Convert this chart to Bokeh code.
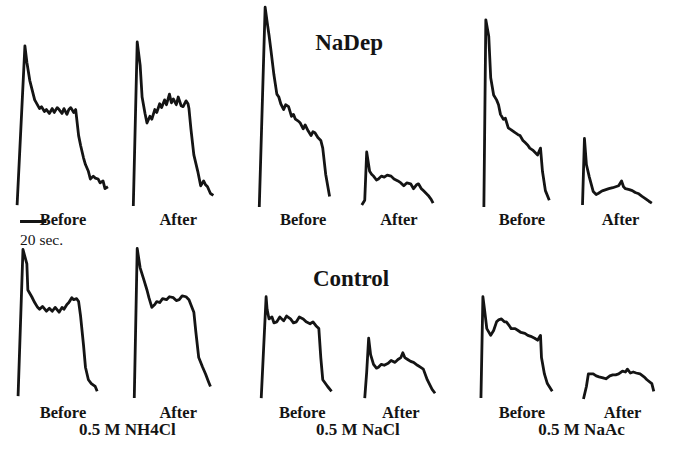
from bokeh.plotting import figure
from bokeh.models import Range1d
from bokeh.core.properties import value
from bokeh.embed import file_html
from bokeh.resources import INLINE

# ---- data: time since onset (samples), signal amplitude (a.u.) ----
# Row 1: NaDep
t_nadep_nh4cl_before = [0, 8, 10, 13, 18, 23, 25, 28, 30, 33, 36, 38, 41, 43, 46, 48, 51, 53, 55, 58, 60, 63, 65, 68, 70, 73, 75, 78, 80, 83, 85, 88, 90, 93]
a_nadep_nh4cl_before = [2, 167, 150, 131, 111, 102, 104, 99, 101, 97, 102, 98, 103, 101, 97, 102, 96, 101, 103, 98, 101, 74, 64, 51, 44, 37, 29, 32, 30, 29, 25, 27, 19, 21]

t_nadep_nh4cl_after = [0, 4, 7, 9, 12, 14, 17, 19, 22, 24, 27, 29, 32, 34, 37, 39, 41, 44, 46, 49, 51, 54, 56, 57, 59, 62, 66, 69, 72, 74, 76, 79, 82]
a_nadep_nh4cl_after = [1, 171, 147, 114, 97, 87, 94, 91, 101, 98, 107, 103, 111, 106, 117, 108, 112, 106, 114, 105, 104, 110, 107, 102, 81, 54, 37, 22, 27, 23, 21, 14, 12]

t_nadep_nacl_before = [0, 6, 8, 10, 12, 15, 18, 20, 22, 25, 27, 30, 33, 35, 37, 40, 42, 45, 47, 50, 53, 55, 57, 60, 63, 65, 68, 72]
a_nadep_nacl_before = [0, 207, 192, 178, 162, 137, 117, 114, 107, 101, 106, 104, 94, 96, 91, 89, 87, 81, 85, 79, 74, 78, 77, 72, 69, 61, 34, 11]

t_nadep_nacl_after = [0, 3, 5, 8, 10, 12, 15, 17, 20, 23, 26, 30, 33, 37, 40, 43, 46, 50, 53, 56, 58, 61, 63, 66, 68, 71, 73]
a_nadep_nacl_after = [2, 7, 57, 37, 34, 32, 28, 29, 32, 31, 33, 32, 29, 27, 25, 22, 25, 24, 19, 23, 24, 19, 17, 14, 12, 8, 4]

t_nadep_naac_before = [0, 2, 5, 7, 10, 13, 15, 17, 20, 22, 25, 28, 32, 35, 37, 40, 42, 45, 47, 50, 52, 55, 58, 60, 63, 67]
a_nadep_naac_before = [0, 194, 177, 134, 116, 111, 106, 96, 91, 92, 82, 80, 77, 75, 74, 69, 67, 64, 61, 59, 57, 54, 61, 37, 17, 7]

t_nadep_naac_after = [0, 2, 4, 7, 11, 14, 16, 19, 21, 24, 27, 31, 34, 37, 40, 42, 44, 48, 51, 54, 57, 61, 64, 68, 71]
a_nadep_naac_after = [2, 71, 44, 31, 16, 13, 14, 16, 17, 18, 19, 20, 21, 22, 27, 21, 19, 18, 17, 15, 14, 11, 9, 6, 4]

# Row 2: Control
t_ctrl_nh4cl_before = [0, 5, 9, 10, 14, 17, 20, 22, 25, 29, 32, 35, 38, 42, 45, 47, 50, 52, 55, 57, 60, 62, 64, 67, 69, 72, 75, 79, 81]
a_ctrl_nh4cl_before = [3, 155, 140, 113, 106, 100, 95, 93, 96, 91, 94, 91, 95, 90, 95, 93, 98, 100, 105, 103, 104, 101, 86, 56, 33, 20, 16, 13, 8]

t_ctrl_nh4cl_after = [0, 3, 6, 10, 13, 15, 18, 21, 23, 26, 29, 33, 36, 40, 43, 46, 49, 53, 56, 61, 63, 66, 70, 73, 76, 78]
a_ctrl_nh4cl_after = [1, 156, 136, 123, 113, 105, 95, 98, 101, 100, 104, 103, 106, 105, 102, 103, 107, 106, 103, 90, 70, 43, 33, 26, 18, 13]

t_ctrl_nacl_before = [0, 5, 6, 8, 11, 13, 16, 19, 23, 26, 30, 33, 36, 39, 43, 46, 50, 53, 56, 59, 61, 63, 68, 72]
a_ctrl_nacl_before = [1, 106, 93, 83, 85, 79, 80, 85, 81, 86, 83, 79, 80, 85, 83, 80, 78, 80, 76, 73, 43, 20, 13, 8]

t_ctrl_nacl_after = [0, 2, 4, 6, 9, 12, 14, 17, 20, 24, 27, 31, 34, 37, 39, 41, 44, 47, 50, 54, 57, 60, 64, 69, 72]
a_ctrl_nacl_after = [1, 28, 63, 46, 36, 32, 33, 36, 35, 37, 40, 38, 41, 43, 48, 43, 41, 39, 38, 35, 33, 31, 20, 10, 6]

t_ctrl_naac_before = [0, 2, 4, 6, 10, 13, 16, 18, 21, 24, 26, 29, 31, 35, 38, 41, 45, 48, 51, 55, 58, 61, 62, 65, 68, 73]
a_ctrl_naac_before = [1, 106, 90, 73, 66, 71, 80, 82, 83, 80, 80, 76, 73, 73, 71, 69, 68, 66, 65, 63, 61, 66, 43, 26, 16, 8]

t_ctrl_naac_after = [0, 3, 5, 10, 13, 16, 20, 23, 27, 30, 33, 36, 40, 43, 45, 48, 51, 54, 58, 62, 65, 70, 72]
a_ctrl_naac_after = [0, 13, 26, 26, 24, 23, 22, 21, 24, 25, 25, 26, 29, 28, 31, 27, 28, 27, 26, 23, 20, 16, 8]

conditions = ["Before", "After"]
treatments = ["0.5 M NH4Cl", "0.5 M NaCl", "0.5 M NaAc"]
groups = ["NaDep", "Control"]
scale_label = "20 sec."

rows = [
    [(t_nadep_nh4cl_before, a_nadep_nh4cl_before), (t_nadep_nh4cl_after, a_nadep_nh4cl_after),
     (t_nadep_nacl_before, a_nadep_nacl_before), (t_nadep_nacl_after, a_nadep_nacl_after),
     (t_nadep_naac_before, a_nadep_naac_before), (t_nadep_naac_after, a_nadep_naac_after)],
    [(t_ctrl_nh4cl_before, a_ctrl_nh4cl_before), (t_ctrl_nh4cl_after, a_ctrl_nh4cl_after),
     (t_ctrl_nacl_before, a_ctrl_nacl_before), (t_ctrl_nacl_after, a_ctrl_nacl_after),
     (t_ctrl_naac_before, a_ctrl_naac_before), (t_ctrl_naac_after, a_ctrl_naac_after)],
]

# ---- layout (positions only, in the 681x457 frame) ----
onsets = [[17, 136, 265, 370, 495, 596], [18, 137, 267, 373, 492, 597]]
baselines = [214, 413]
label_x = [[64, 182, 310, 408, 534, 635], [64, 182, 309, 410, 534, 637]]
label_y = [227, 427]
group_pos = [(357, 44), (359, 288)]
treat_x = [130, 366, 595]
treat_y = 445

p = figure(width=665, height=441, output_backend="svg", toolbar_location=None,
           x_range=Range1d(0, 681), y_range=Range1d(457, 0), min_border=0)
p.axis.visible = False
p.grid.visible = False
p.outline_line_color = None
p.background_fill_color = "white"
p.border_fill_color = "white"

ink = "#141414"
serif = value("Liberation Serif")

for r, row in enumerate(rows):
    for c, (t, a) in enumerate(row):
        xs = [onsets[r][c] + v for v in t]
        ys = [baselines[r] - v for v in a]
        p.line(xs, ys, line_color=ink, line_width=2.8, line_join="round")
        p.text(x=[label_x[r][c]], y=[label_y[r]], text=[conditions[c % 2]],
               text_font=serif, text_font_style="bold", text_font_size="16.5px",
               text_align="center", text_baseline="alphabetic", text_color=ink)
    gx, gy = group_pos[r]
    p.text(x=[gx], y=[gy], text=[groups[r]], text_font=serif, text_font_style="bold",
           text_font_size="23px", text_align="center", text_baseline="alphabetic", text_color=ink)

for i, lab in enumerate(treatments):
    p.text(x=[treat_x[i]], y=[treat_y], text=[lab], text_font=serif, text_font_style="bold",
           text_font_size="17px", text_align="center", text_baseline="alphabetic", text_color=ink)

# scale bar (20 s)
p.line([20, 47], [229, 229], line_color=ink, line_width=3)
p.text(x=[20], y=[248], text=[scale_label], text_font=serif, text_font_size="15.5px",
       text_align="left", text_baseline="alphabetic", text_color=ink)

open("out.html", "w").write(file_html(p, INLINE))
